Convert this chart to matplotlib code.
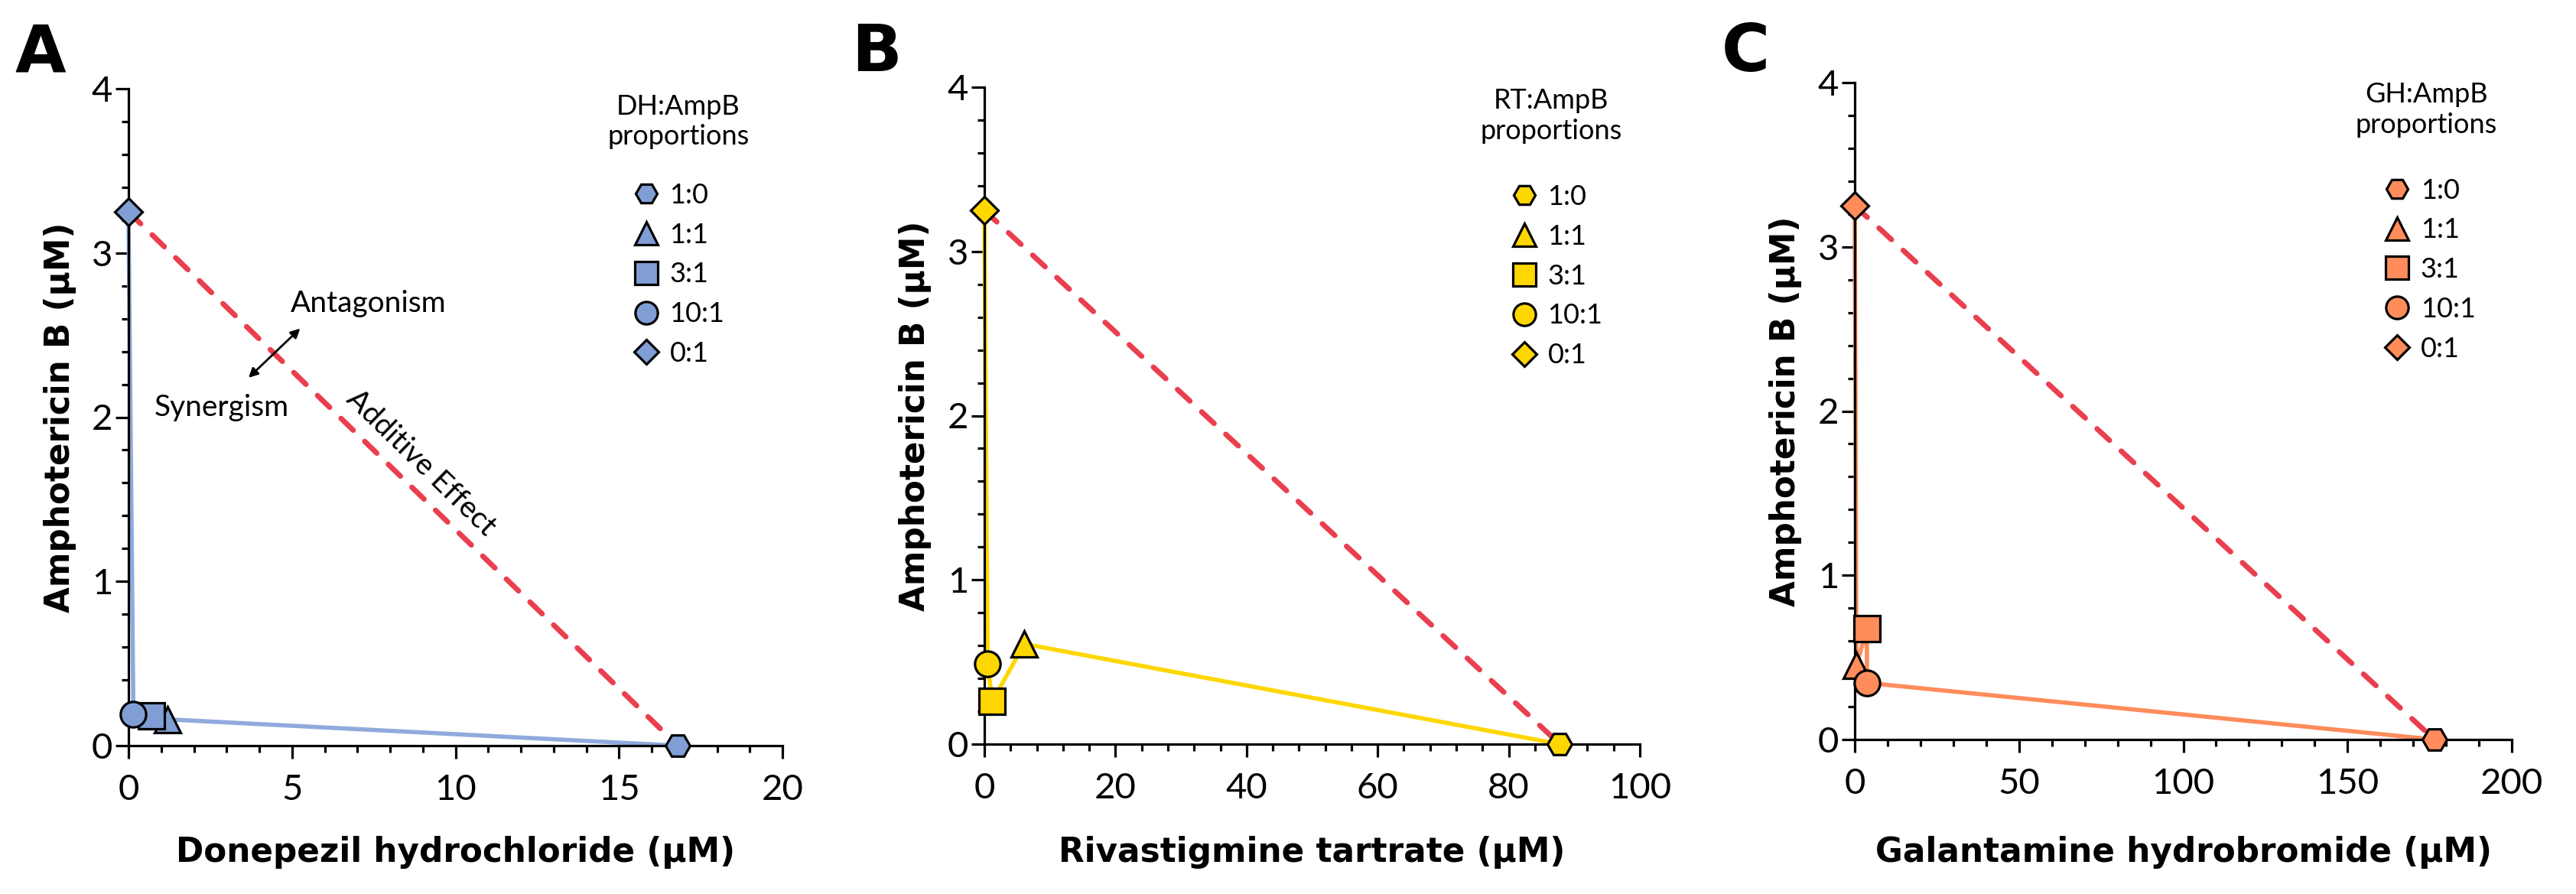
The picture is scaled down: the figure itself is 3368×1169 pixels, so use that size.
import numpy as np
import matplotlib
matplotlib.use("Agg")
import matplotlib.pyplot as plt
from matplotlib.ticker import MultipleLocator

plt.rcParams['font.family'] = ['Lato', 'DejaVu Sans']

# ---------------- data ----------------
ratios = ['1:0', '1:1', '3:1', '10:1', '0:1']
markers = ['H', '^', 's', 'o', 'D']

panel_letters = ['A', 'B', 'C']
drug_abbrev = ['DH', 'RT', 'GH']
x_labels = ['Donepezil hydrochloride (μM)', 'Rivastigmine tartrate (μM)',
            'Galantamine hydrobromide (μM)']
y_label = 'Amphotericin B (μM)'

# drug concentration (x) and AmpB concentration (y) for each ratio, in `ratios` order
dh_x = [16.8, 1.2, 0.7, 0.15, 0.0]
dh_y = [0.0, 0.16, 0.18, 0.19, 3.25]
rt_x = [87.8, 6.1, 1.2, 0.5, 0.0]
rt_y = [0.0, 0.61, 0.26, 0.49, 3.25]
gh_x = [176.5, 0.5, 3.7, 3.7, 0.0]
gh_y = [0.0, 0.45, 0.675, 0.345, 3.25]

line_order_dh = ['0:1', '10:1', '3:1', '1:1', '1:0']
line_order_rt = ['0:1', '10:1', '3:1', '1:1', '1:0']
line_order_gh = ['0:1', '1:1', '3:1', '10:1', '1:0']

x_ticks_dh = [0, 5, 10, 15, 20]
x_ticks_rt = [0, 20, 40, 60, 80, 100]
x_ticks_gh = [0, 50, 100, 150, 200]
y_ticks = [0, 1, 2, 3, 4]

# ---------------- styles ----------------
W, H = 3368, 1169
fig = plt.figure(figsize=(W / 100, H / 100), dpi=100)

fill_colors = ['#809ED4', '#FFD700', '#FF8C5A']
line_colors = ['#8FAADC', '#FFD700', '#FF8C5A']
red = '#EA3F4E'
marker_sizes = {'H': 23, '^': 25, 's': 24, 'o': 24, 'D': 18}

# axes geometry in pixels: left, bottom(y of x-axis), width, height
geom = [(168, 975, 855, 859), (1287, 973, 857, 859), (2425, 967, 859, 859)]
minor_x = [1, 4, 10]
legend_anchor = [(0.7705, 0.857), (0.8025, 0.852), (0.8045, 0.855)]
title_pos = [(0.841, 0.95), (0.865, 0.956), (0.87, 0.959)]
letter_x = [20, 1113, 2251]

panels = [
    (dh_x, dh_y, line_order_dh, x_ticks_dh),
    (rt_x, rt_y, line_order_rt, x_ticks_rt),
    (gh_x, gh_y, line_order_gh, x_ticks_gh),
]

for i, (xs, ys, order, xt) in enumerate(panels):
    l, b, w, h = geom[i]
    ax = fig.add_axes([l / W, (H - b) / H, w / W, h / H])
    ax.set_xlim(xt[0], xt[-1])
    ax.set_ylim(y_ticks[0], y_ticks[-1])
    for s in ['top', 'right']:
        ax.spines[s].set_visible(False)
    for s in ['left', 'bottom']:
        ax.spines[s].set_linewidth(2.3)
    ax.set_xticks(xt)
    ax.set_yticks(y_ticks)
    ax.xaxis.set_minor_locator(MultipleLocator(minor_x[i]))
    ax.yaxis.set_minor_locator(MultipleLocator(0.2))
    ax.tick_params(which='major', length=12, width=2.3, labelsize=34)
    ax.tick_params(which='minor', length=6.5, width=2.3)
    ax.tick_params(axis='x', which='major', pad=15)
    ax.tick_params(axis='y', which='major', pad=3)
    for lbl in ax.get_xticklabels() + ax.get_yticklabels():
        lbl.set_fontfamily('Lato')

    pts = {r: (x, y) for r, x, y in zip(ratios, xs, ys)}
    lx = [pts[r][0] for r in order]
    ly = [pts[r][1] for r in order]
    ax.plot(lx, ly, color=line_colors[i], lw=4.0, zorder=2, clip_on=False,
            solid_joinstyle='miter')
    # additive line between the single-drug points
    ax.plot([pts['0:1'][0], pts['1:0'][0]], [pts['0:1'][1], pts['1:0'][1]],
            color=red, lw=5, ls=(0, (3.2, 3.0)), dash_capstyle='round',
            zorder=2.5, clip_on=False)
    handles = []
    for r, m in zip(ratios, markers):
        hdl, = ax.plot([pts[r][0]], [pts[r][1]], ls='none', marker=m,
                       ms=marker_sizes[m], mfc=fill_colors[i], mec='black',
                       mew=2.3, zorder=4, clip_on=False, label=r)
        handles.append(hdl)

    leg = ax.legend(handles=handles, labels=ratios, loc='upper left',
                    bbox_to_anchor=legend_anchor[i], frameon=False,
                    borderpad=0, borderaxespad=0, handlelength=1.0,
                    handletextpad=0.35, labelspacing=0.52, markerscale=0.88,
                    prop={'family': 'Lato', 'size': 26})
    ax.text(title_pos[i][0], title_pos[i][1],
            drug_abbrev[i] + ':AmpB\nproportions', transform=ax.transAxes,
            ha='center', va='center', fontsize=26, linespacing=1.25,
            fontfamily='Lato')

    ax.set_xlabel(x_labels[i], fontfamily='DejaVu Sans', fontweight='bold',
                  fontsize=31.5)
    ax.xaxis.set_label_coords(0.5, (b - 1093) / h)
    ax.set_ylabel(y_label, fontfamily='DejaVu Sans', fontweight='bold',
                  fontsize=31.5)
    ax.yaxis.set_label_coords(-0.08, 0.5)

    fig.text(letter_x[i] / W, 1 - 28 / H, panel_letters[i],
             fontfamily='DejaVu Sans', fontweight='bold', fontsize=62,
             va='top', ha='left')

    if i == 0:
        ax.text(7.33, 2.69, 'Antagonism', ha='center', va='center',
                fontsize=28, fontfamily='Lato')
        ax.text(2.85, 2.06, 'Synergism', ha='center', va='center',
                fontsize=28, fontfamily='Lato')
        ax.annotate('', xy=(5.25, 2.54), xytext=(3.67, 2.24),
                    arrowprops=dict(arrowstyle='<|-|>', color='black',
                                    lw=2, mutation_scale=18,
                                    shrinkA=0, shrinkB=0))
        x0, y0 = pts['0:1']
        x1, y1 = pts['1:0']
        ang = np.degrees(np.arctan2(y1 - y0, x1 - x0))
        ax.text(8.95, 1.72, 'Additive Effect', ha='center', va='center',
                rotation=ang, transform_rotates_text=True,
                rotation_mode='anchor', fontsize=28, fontfamily='Lato')

fig.savefig('out.png', dpi=100)
